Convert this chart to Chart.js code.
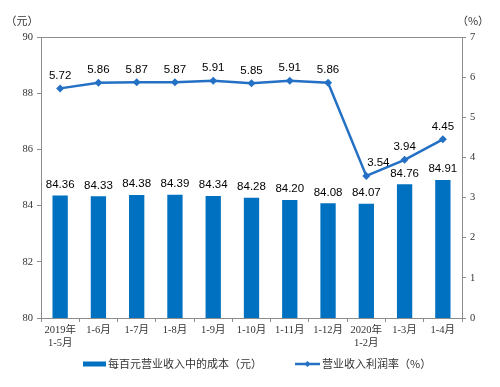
<!DOCTYPE html>
<html>
<head>
<meta charset="utf-8">
<script src="https://cdn.jsdelivr.net/npm/chart.js@4"></script>
<style>
  html, body { margin: 0; padding: 0; background: #fff; }
  #wrap { width: 500px; height: 387px; }
</style>
</head>
<body>
<div id="wrap"><canvas id="chart" width="500" height="387"></canvas></div>
<script>
// data
const categories = [["2019年", "1-5月"], "1-6月", "1-7月", "1-8月", "1-9月", "1-10月", "1-11月", "1-12月", ["2020年", "1-2月"], "1-3月", "1-4月"];
const costPer100 = [84.36, 84.33, 84.38, 84.39, 84.34, 84.28, 84.20, 84.08, 84.07, 84.76, 84.91];
const profitRate = [5.72, 5.86, 5.87, 5.87, 5.91, 5.85, 5.91, 5.86, 3.54, 3.94, 4.45];
const barLabel = "每百元营业收入中的成本（元）";
const lineLabel = "营业收入利润率（%）";

const barColor = "#0070C0";
const lineColor = "#2470C4";
const axisColor = "#8c8c8c";
const serif = "'Liberation Serif', 'Noto Sans CJK SC', serif";
const cjk = "'Noto Sans CJK SC', sans-serif";
const sans = "'Liberation Sans', Arial, sans-serif";

// value labels, box, unit titles and legend
const extras = {
  id: "extras",
  afterDatasetsDraw(chart) {
    const ctx = chart.ctx;
    const area = chart.chartArea;
    ctx.save();

    // frame top edge
    ctx.strokeStyle = axisColor;
    ctx.lineWidth = 1;
    ctx.beginPath();
    ctx.moveTo(area.left, area.top + 0.5);
    ctx.lineTo(area.right, area.top + 0.5);
    ctx.stroke();

    ctx.fillStyle = "#000";
    ctx.font = "11.5px " + sans;
    ctx.textAlign = "center";
    ctx.textBaseline = "bottom";
    chart.getDatasetMeta(0).data.forEach((el, i) => {
      ctx.fillText(costPer100[i].toFixed(2), el.x, el.y - 5);
    });
    chart.getDatasetMeta(1).data.forEach((el, i) => {
      // the low point label sits a bit to the right, clear of the steep line
      const dx = i === 8 ? 12 : 0;
      ctx.fillText(profitRate[i].toFixed(2), el.x + dx, el.y - 7);
    });

    // unit titles
    ctx.font = "11px " + cjk;
    ctx.fillStyle = "#333";
    ctx.textBaseline = "middle";
    ctx.fillText("（元）", 22, 21);
    ctx.fillText("（%）", 473, 21);

    // legend
    const ly = 364;
    ctx.fillStyle = barColor;
    ctx.fillRect(83, ly - 2.5, 23, 5);
    ctx.fillStyle = "#333";
    ctx.textAlign = "left";
    ctx.font = "11px " + cjk;
    ctx.fillText(barLabel, 108, ly);

    ctx.strokeStyle = lineColor;
    ctx.lineWidth = 2.5;
    ctx.beginPath();
    ctx.moveTo(295, ly);
    ctx.lineTo(320, ly);
    ctx.stroke();
    ctx.fillStyle = lineColor;
    ctx.beginPath();
    ctx.moveTo(307.5, ly - 3);
    ctx.lineTo(310.5, ly);
    ctx.lineTo(307.5, ly + 3);
    ctx.lineTo(304.5, ly);
    ctx.closePath();
    ctx.fill();
    ctx.fillStyle = "#333";
    ctx.fillText(lineLabel, 322, ly);
    ctx.restore();
  }
};

new Chart(document.getElementById("chart"), {
  type: "bar",
  data: {
    labels: categories,
    datasets: [
      {
        type: "bar",
        label: barLabel,
        data: costPer100,
        backgroundColor: barColor,
        yAxisID: "y",
        barPercentage: 0.8,
        categoryPercentage: 0.5,
        order: 2
      },
      {
        type: "line",
        label: lineLabel,
        data: profitRate,
        borderColor: lineColor,
        backgroundColor: lineColor,
        borderWidth: 2.5,
        pointStyle: "rectRot",
        pointRadius: 4,
        pointBackgroundColor: lineColor,
        pointBorderWidth: 0,
        tension: 0,
        yAxisID: "y1",
        order: 1
      }
    ]
  },
  options: {
    responsive: false,
    animation: false,
    layout: { padding: { top: 37, left: 0, right: 0, bottom: 0 } },
    plugins: {
      legend: { display: false },
      tooltip: { enabled: false }
    },
    scales: {
      x: {
        grid: { display: true, drawOnChartArea: false, offset: true, tickLength: 4, color: axisColor },
        border: { display: true, color: axisColor },
        ticks: {
          color: "#333",
          font: { family: serif, size: 10.5 },
          maxRotation: 0,
          autoSkip: false,
          padding: 2
        },
        afterFit(scale) { scale.height = 69; }
      },
      y: {
        position: "left",
        min: 80,
        max: 90,
        ticks: { stepSize: 2, color: "#333", font: { family: serif, size: 10.5 }, padding: 4 },
        grid: { display: true, drawOnChartArea: false, tickLength: 4, color: axisColor },
        border: { display: true, color: axisColor },
        afterFit(scale) { scale.width = 41; }
      },
      y1: {
        position: "right",
        min: 0,
        max: 7,
        ticks: { stepSize: 1, color: "#333", font: { family: serif, size: 10.5 }, padding: 4 },
        grid: { display: true, drawOnChartArea: false, tickLength: 4, color: axisColor },
        border: { display: true, color: axisColor },
        afterFit(scale) { scale.width = 38; }
      }
    }
  },
  plugins: [extras]
});
</script>
</body>
</html>
